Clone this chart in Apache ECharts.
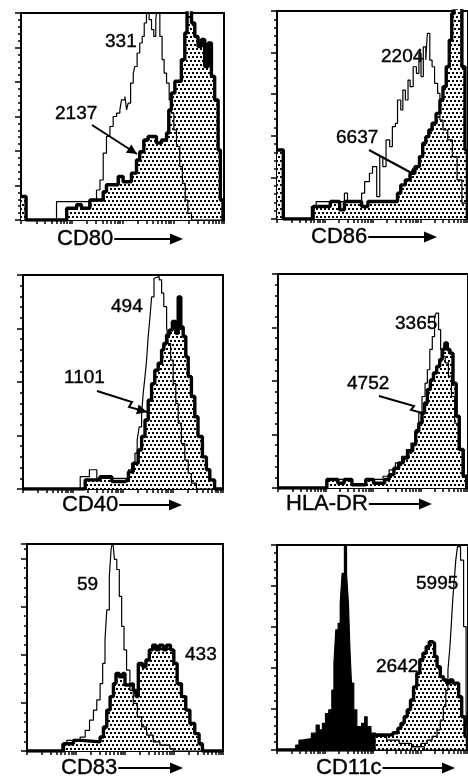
<!DOCTYPE html>
<html>
<head>
<meta charset="utf-8">
<script src="https://cdn.jsdelivr.net/npm/echarts@6/dist/echarts.min.js"></script>
<style>
  html, body { margin: 0; padding: 0; background: #fff; }
  #main { width: 468px; height: 783px; }
</style>
</head>
<body>
<div id="main"></div>
<script>
// histograms: [x as % of the 4-decade log axis, cell count]; step starts at x
const cd80Open = [[0,6.8],[2.5,0],[17.5,5.3],[33.9,5.8],[37.2,8.7],[38.9,11.6],[40.5,19.4],[42.1,24.2],[43.8,27.1],[45.4,30],[47.1,31],[48.7,31.9],[49.5,34.8],[51.2,35.8],[52,31.9],[52.8,33.9],[54,39.7],[55.3,42.6],[56.1,44.5],[57.2,48.4],[58.5,51.3],[59.7,53.2],[60.7,57.1],[61.8,62],[63.1,58.1],[64.3,55.2],[65.4,53.2],[66.4,58.1],[67.1,62],[68.4,53.2],[69.5,46.5],[70.5,42.6],[71.7,39.7],[73,34.8],[74.1,31],[75.3,26.1],[76.6,21.3],[78.2,15.5],[79.5,10.6],[80.9,5.8],[82.2,1.9],[84,0],[100,0]];
const cd80Dotted = [[0,6.8],[2.5,0],[22.5,3.4],[27.4,4.4],[29.8,3.4],[33.9,5.8],[40.5,8.2],[42.1,10.2],[47.9,12.6],[50.3,11.1],[54.4,13.6],[56.9,17.4],[58.5,19.8],[60.5,23.2],[62.6,24.2],[66.7,22.3],[69.2,23.2],[71.7,25.2],[72.8,31.9],[74.1,36.8],[75.8,40.2],[79,46.5],[80.7,54.2],[81.8,62],[84,57.1],[85.6,53.2],[87.2,50.3],[88.9,52.3],[90.5,44.5],[92.2,51.3],[93.8,41.6],[95.4,34.8],[97.1,20.3],[98.2,5.8],[99.5,0],[100,0]];

const cd86Open = [[0,16.6],[3.3,0],[18,3],[20.5,4.2],[35.3,6.2],[36.9,4.2],[44.3,6.2],[45.9,9],[48.4,11],[50,12.6],[52.2,5.4],[53.8,15],[55.4,12.6],[57.1,19],[59,17.4],[60.4,22.2],[62,23],[63.1,28.6],[64.8,26.2],[65.9,31],[67.2,28.6],[68.6,33.4],[69.7,31.8],[71.3,36.6],[73,35],[74.3,39.8],[75.4,34.2],[76.6,41.4],[77.9,38.2],[78.7,44.6],[80,38.2],[81.2,36.6],[82.5,32.6],[84.1,30.2],[85.3,23.8],[86.9,21.4],[89.4,19],[91.8,15],[94.3,9.4],[96.8,3.8],[99.2,0],[100,0]];
const cd86Dotted = [[0,16.6],[3.3,0],[18.9,3],[27.9,4.2],[32.8,2.2],[35.3,4.2],[44.3,3],[47.6,4.2],[63.1,6.2],[64.8,8.2],[67.2,9.4],[69.7,11],[72.2,12.6],[74.6,15],[76.3,18.2],[77.9,19.8],[79.5,21.4],[81.2,23],[83.3,25.4],[85.3,28.6],[86.9,31.8],[88.6,36.6],[90.2,43],[91.5,49.4],[92.7,52],[96.8,36.6],[98.4,16.6],[99.7,0],[100,0]];

const cd40Open = [[0,0],[28.6,2.3],[33.2,3.6],[36.9,2],[52.7,3.6],[54.3,4.8],[56,6.7],[57.1,9.2],[58.1,11.6],[59.3,14.1],[60.1,17.9],[61,21],[61.8,24.1],[62.6,28.5],[63.5,32.2],[64.3,35.9],[65.5,39.4],[66.4,39.7],[68.1,39.1],[69.3,36.6],[70.4,34.1],[71.8,30.4],[72.6,27.2],[73.8,24.1],[75.1,19.7],[76.4,16],[77.6,12.3],[79.2,8.5],[80.9,5.4],[82.6,2.9],[84.2,1.1],[86.7,0],[100,0]];
const cd40Dotted = [[0,0],[31.1,1.7],[38.5,2.3],[44.4,1.4],[51,1.7],[52.7,3.2],[55.1,4.8],[57.6,7.3],[59.3,9.8],[61,12.9],[62.6,16.6],[64.3,19.7],[65.9,22.2],[67.6,23.5],[69.3,26],[70.4,27.2],[71.8,28.8],[73.1,29.7],[74.7,31.3],[76.4,29.1],[77.6,35.9],[78.9,30.3],[80.1,28.5],[81.4,24.7],[82.6,21],[84.2,17.3],[85.9,13.5],[87.5,9.8],[89.7,6],[91.7,3.6],[93.4,1.7],[95.8,0],[100,0]];

const hladrOpen = [[0,0],[25.7,1.6],[38.9,0.6],[46.2,1.6],[55.3,2.2],[58.5,3.4],[61.8,4.7],[65.1,5.9],[67.6,7.2],[70,8.4],[72.5,10.9],[74.1,14],[75.8,17.1],[77.4,19.6],[78.6,22.1],[79.9,25.9],[81.2,28.3],[82.4,32.1],[83.3,32.7],[84.5,29.6],[85.6,25.9],[86.8,24.6],[88,23.4],[89.7,20.9],[91.3,17.1],[93,12.1],[94.9,7.2],[97,2.2],[98.7,0],[100,0]];
const hladrDotted = [[0,0],[25.7,1.6],[31.5,0.9],[34.8,1.6],[38.9,0.6],[46.2,1.6],[50.3,0.9],[56.1,1.6],[58.5,2.5],[61,3.7],[63.5,4.7],[66,5.6],[68.4,6.9],[70.9,8.1],[72.5,10.6],[74.1,12.1],[75.8,14],[77.1,15.9],[78.6,18.4],[80.2,20.2],[81.8,21.5],[83.5,22.7],[85.1,24],[86.4,25.9],[87.8,27.1],[89.1,25.9],[90.5,25.2],[92.1,19.6],[93.8,13.4],[95.4,7.2],[97.5,2.2],[99.5,0],[100,0]];

const cd83Open = [[0,0],[17.8,1.5],[20.3,2.2],[27.1,2.9],[29.7,4.3],[31.9,6.4],[33.9,8.5],[35.6,10.6],[37.3,14],[38.6,18.2],[39.8,23.1],[40.7,29.3],[42,36.3],[42.9,41.8],[43.7,44],[44.6,39.8],[45.8,37.7],[47.1,32.1],[48.3,25.9],[49.5,21],[50.8,16.8],[52.5,12.6],[54.2,9.9],[56.3,7.1],[58.5,5],[61,3.3],[64.4,1.9],[67.8,1.2],[72.9,0.5],[74.6,0],[100,0]];
const cd83Dotted = [[0,0],[18.6,1.5],[23.7,2.2],[28,1.9],[37.3,2.9],[39,5],[40.7,8.5],[42.4,11.3],[44.1,14],[45.4,16.1],[47.1,15.4],[48.8,16.1],[50,13.7],[52.5,14],[54.2,12.6],[55.6,11.3],[56.8,18.2],[59,17.5],[60.7,18.9],[62.4,21],[64.1,22],[65.8,21],[67.5,22],[69.5,21],[71.2,22],[73.2,21],[74.9,18.2],[76.6,14],[78.8,11.3],[81,8.5],[83.1,5.7],[85.6,3.6],[87.8,1.5],[89.5,0],[100,0]];

const cd11cBlack = [[0,0],[9.8,1.2],[11.5,2.4],[13.1,2.8],[18,4.1],[20.5,6.1],[22.1,4.9],[23.8,6.5],[25.4,8.9],[27.1,9.8],[28.7,14.6],[29.8,21.1],[30.8,29.3],[32,30.9],[33.1,35.8],[34.1,43.1],[35.3,51],[36.4,43.1],[37.4,35.8],[38.2,24.4],[39,16.3],[40.2,9.8],[41.8,5.7],[44.3,6.5],[45.9,8.1],[47.2,5.7],[49.2,4.1],[51.7,3.3],[57.4,2.4],[64,1.6],[70.5,0.8],[77.1,0],[100,0]];
const cd11cDotted = [[0,0],[50.8,3.7],[60.7,4.2],[63.3,5.3],[64.9,6.5],[66.6,8.1],[68.2,9.8],[69.9,12.2],[71.5,15.4],[73.2,18.7],[74.8,22],[76.4,23.6],[78.1,25.2],[79.7,26.4],[81.4,26],[82.5,22.8],[83.8,20.3],[85.5,17.9],[87.1,17.1],[88.8,16.3],[90.4,17.1],[92.1,16.3],[95.1,13],[96.7,8.1],[98.4,3.3],[99.7,0],[100,0]];
const cd11cOpen = [[0,0],[70.5,0.8],[75.4,1.6],[78.7,2.4],[81.2,3.3],[83.8,4.9],[85.5,7.3],[87.1,10.6],[88.4,14.6],[89.5,19.5],[90.4,24.4],[91.2,30.1],[92,36.6],[92.8,41.5],[93.6,46.3],[94.5,49.6],[96.1,46.3],[97.7,30.1],[99,9.8],[100,0]];

const markers = ['CD80', 'CD86', 'CD40', 'HLA-DR', 'CD83', 'CD11c'];
const yMaxes = [60, 50, 40, 40, 43, 50];

// panel boxes in pixels
const boxes = [
  { left: 21, top: 13, width: 203, height: 207 },
  { left: 277, top: 11, width: 204, height: 208 },
  { left: 23, top: 275, width: 200, height: 214 },
  { left: 278, top: 274, width: 204, height: 214 },
  { left: 27, top: 544, width: 196, height: 207 },
  { left: 277, top: 545, width: 204, height: 205 }
];

// log ticks, 4 decades over 0..100
const logTicks = [];
for (let d = 0; d < 4; d++) {
  for (let k = 1; k < 10; k++) logTicks.push((d + Math.log10(k)) * 25);
}
logTicks.push(100);

// dotted fill: 2px dots, rows 4px apart, every other row shifted
const dots = document.createElement('canvas');
dots.width = 4; dots.height = 8;
const dc = dots.getContext('2d');
dc.fillStyle = '#fff';
dc.fillRect(0, 0, 4, 8);
dc.fillStyle = '#000';
dc.fillRect(0, 0, 2, 2);
dc.fillRect(2, 4, 2, 2);
const dotFill = { image: dots, repeat: 'repeat' };

const font = '"Liberation Sans", Arial, sans-serif';

function hist(name, i, data, kind) {
  const s = {
    name: name, type: 'line', step: 'end', symbol: 'none',
    xAxisIndex: i, yAxisIndex: i, data: data, silent: true,
    lineStyle: { color: '#000', width: 1.2 }
  };
  if (kind === 'dotted') {
    s.lineStyle.width = 3.4;
    s.areaStyle = { color: dotFill, opacity: 1 };
  } else if (kind === 'black') {
    s.areaStyle = { color: '#000', opacity: 1 };
  }
  return s;
}

const series = [
  hist('cd80 dotted', 0, cd80Dotted, 'dotted'),
  hist('cd80 open', 0, cd80Open, 'open'),
  hist('cd86 dotted', 1, cd86Dotted, 'dotted'),
  hist('cd86 open', 1, cd86Open, 'open'),
  hist('cd40 dotted', 2, cd40Dotted, 'dotted'),
  hist('cd40 open', 2, cd40Open, 'open'),
  hist('hladr dotted', 3, hladrDotted, 'dotted'),
  hist('hladr open', 3, hladrOpen, 'open'),
  hist('cd83 dotted', 4, cd83Dotted, 'dotted'),
  hist('cd83 open', 4, cd83Open, 'open'),
  hist('cd11c black', 5, cd11cBlack, 'black'),
  hist('cd11c dotted', 5, cd11cDotted, 'dotted'),
  hist('cd11c open', 5, cd11cOpen, 'open')
];

function arrowHead(x1, y1, x2, y2, len, half) {
  const a = Math.atan2(y2 - y1, x2 - x1);
  const bx = x2 - len * Math.cos(a), by = y2 - len * Math.sin(a);
  return {
    type: 'polygon',
    shape: { points: [[x2, y2], [bx + half * Math.sin(a), by - half * Math.cos(a)], [bx - half * Math.sin(a), by + half * Math.cos(a)]] },
    style: { fill: '#000' }
  };
}

function pointer(points) {
  const n = points.length;
  return [
    { type: 'polyline', shape: { points: points }, style: { stroke: '#000', lineWidth: 2, fill: null } },
    arrowHead(points[n - 2][0], points[n - 2][1], points[n - 1][0], points[n - 1][1], 10, 5)
  ];
}

function txt(s, x, y, size) {
  return { type: 'text', x: x, y: y, style: { text: s, font: size + 'px ' + font, fill: '#000', stroke: '#000', lineWidth: 0.4, textVerticalAlign: 'middle' } };
}

const option = {
  animation: false,
  backgroundColor: '#fff',
  grid: boxes.map(function (b) {
    return Object.assign({ show: true, borderColor: '#000', borderWidth: 2, backgroundColor: 'transparent', containLabel: false }, b);
  }),
  xAxis: boxes.map(function (b, i) {
    return {
      type: 'value', gridIndex: i, min: 0, max: 100,
      axisLine: { show: true, onZero: false, lineStyle: { color: '#000', width: 2 } },
      axisTick: { show: true, length: 4, customValues: logTicks, lineStyle: { color: '#000', width: 1.5 } },
      axisLabel: { show: false },
      splitLine: { show: false }
    };
  }),
  yAxis: boxes.map(function (b, i) {
    return {
      type: 'value', gridIndex: i, min: 0, max: yMaxes[i], interval: 10,
      axisLine: { show: true, lineStyle: { color: '#000', width: 2 } },
      axisTick: { show: true, length: 6, lineStyle: { color: '#000', width: 1.5 } },
      minorTick: { show: true, splitNumber: 5, length: 3, lineStyle: { color: '#000', width: 1.5 } },
      axisLabel: { show: false },
      splitLine: { show: false }
    };
  }),
  series: series
};

const chart = echarts.init(document.getElementById('main'));
chart.setOption(option);

// marker labels under the panels, each followed by a long arrow
const labelPos = [[57, 239, 183], [311, 237, 437], [62, 505, 182], [286, 504, 432], [61, 768, 183], [316, 768, 455]];
const labelSize = 22;
const ctx = document.createElement('canvas').getContext('2d');
ctx.font = labelSize + 'px ' + font;
const g = [];
markers.forEach(function (m, i) {
  const p = labelPos[i];
  g.push(txt(m, p[0], p[1], labelSize));
  const x0 = p[0] + ctx.measureText(m).width + 1;
  g.push({ type: 'line', shape: { x1: x0, y1: p[1], x2: p[2] - 8, y2: p[1] }, style: { stroke: '#000', lineWidth: 1.8 } });
  g.push(arrowHead(x0, p[1], p[2], p[1], 13, 5.5));
});

// counts next to the peaks
const numSize = 19;
g.push(txt('331', 105, 42, numSize));
g.push(txt('2137', 55, 114, numSize));
g.push.apply(g, pointer([[92, 125], [137, 154]]));
g.push(txt('2204', 381, 57, numSize));
g.push(txt('6637', 336, 138, numSize));
g.push.apply(g, pointer([[369, 150], [419, 177]]));
g.push(txt('494', 111, 307, numSize));
g.push(txt('1101', 64, 378, numSize));
g.push.apply(g, pointer([[97, 391], [132, 402], [129, 407], [147, 412]]));
g.push(txt('3365', 395, 324, numSize));
g.push(txt('4752', 347, 384, numSize));
g.push.apply(g, pointer([[379, 396], [414, 406], [411, 410], [434, 416]]));
g.push(txt('59', 77, 585, numSize));
g.push(txt('433', 185, 655, numSize));
g.push(txt('5995', 416, 584, numSize));
g.push(txt('2642', 376, 667, numSize));

chart.setOption({ graphic: g });
</script>
</body>
</html>
